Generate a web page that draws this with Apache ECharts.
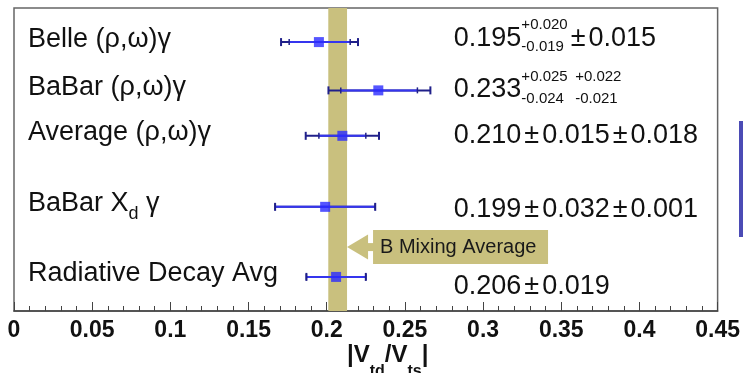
<!DOCTYPE html>
<html>
<head>
<meta charset="utf-8">
<script src="https://cdn.jsdelivr.net/npm/echarts@6/dist/echarts.min.js"></script>
<style>
  html, body { margin: 0; padding: 0; background: #fff; }
  #chartBox { width: 743px; height: 373px; }
</style>
</head>
<body>
<div id="chartBox"></div>
<script>
// measurements, top to bottom
var categories = ['Belle (ρ,ω)γ', 'BaBar (ρ,ω)γ', 'Average (ρ,ω)γ', 'BaBar X_{d} γ', 'Radiative Decay Avg'];
var rowPos = [5.68, 4.66, 3.7, 2.2, 0.72];
var resultRow = [5.76, 4.68, 3.7, 2.15, 0.51];   // level of the printed numbers
var central = [0.195, 0.233, 0.210, 0.199, 0.206];
var statUp = [0.020, 0.025, 0.015, 0.032, 0.019];
var statDn = [0.019, 0.024, 0.015, 0.032, 0.019];
var systUp = [0.015, 0.022, 0.018, 0.001, 0];
var systDn = [0.015, 0.021, 0.018, 0.001, 0];

// B mixing band
var bMixing = [0.201, 0.213];
var bMixingLabel = 'B Mixing Average';
var bMixingRow = 1.35;

var xTickLabels = ['0', '0.05', '0.1', '0.15', '0.2', '0.25', '0.3', '0.35', '0.4', '0.45'];
var xTitle = '|V_{td}/V_{ts}|';

var FONT = '"Liberation Sans", Arial, Helvetica, sans-serif';
var BAND = '#c9c07e';
var resultX = 0.28;   // where the numbers start (axis units)

var measureCtx = document.createElement('canvas').getContext('2d');
function measure(t, size, weight) {
  measureCtx.font = (weight || 'normal') + ' ' + size + 'px ' + FONT;
  return measureCtx.measureText(t).width;
}

// tiny ^{..} / _{..} parser
function parseTex(str) {
  var out = [], buf = '', i = 0;
  while (i < str.length) {
    var c = str[i];
    if ((c === '^' || c === '_') && str[i + 1] === '{') {
      if (buf) { out.push({t: buf, kind: 'main'}); buf = ''; }
      var j = str.indexOf('}', i);
      out.push({t: str.slice(i + 2, j), kind: c === '^' ? 'sup' : 'sub'});
      i = j + 1;
    } else { buf += c; i++; }
  }
  if (buf) out.push({t: buf, kind: 'main'});
  return out;
}

function txt(t, x, y, size, weight, color) {
  return {
    type: 'text', x: x, y: y, silent: true,
    style: {text: t, font: (weight || 'normal') + ' ' + size + 'px ' + FONT,
            fill: color || '#111', align: 'left', verticalAlign: 'middle'}
  };
}

function texElements(str, x, y, o) {
  var els = [], cx = x, stackW = 0, prev = null;
  parseTex(str).forEach(function (tk) {
    if (tk.kind === 'main') {
      cx += stackW; stackW = 0;
      tk.t.split('±').forEach(function (p, k) {
        if (k > 0) {
          cx += o.pmGap;
          els.push(txt('±', cx, y, o.size, o.weight));
          cx += measure('±', o.size, o.weight) + o.pmGap;
        }
        if (p) {
          els.push(txt(p, cx, y, o.size, o.weight));
          cx += measure(p, o.size, o.weight);
        }
      });
    } else {
      if (prev === 'main' || prev === tk.kind) { cx += stackW; stackW = 0; }
      els.push(txt(tk.t, cx, y + (tk.kind === 'sup' ? o.supDy : o.subDy), o.small, o.weight));
      stackW = Math.max(stackW, measure(tk.t, o.small, o.weight));
    }
    prev = tk.kind;
  });
  return els;
}

function errPart(up, dn) {
  if (!up && !dn) return '';
  if (up === dn) return '±' + up.toFixed(3);
  return '^{+' + up.toFixed(3) + '}_{-' + dn.toFixed(3) + '}';
}
function resultText(i) {
  var s = central[i].toFixed(3) + errPart(statUp[i], statDn[i]);
  var sy = errPart(systUp[i], systDn[i]);
  if (sy && sy[0] === '^' && statUp[i] !== statDn[i]) s += ' ';
  return s + sy;
}

var rowData = central.map(function (c, i) { return [c, rowPos[i]]; });

var chartBox = echarts.init(document.getElementById('chartBox'));

var option = {
  animation: false,
  grid: {left: 14, right: 21, top: 8, bottom: 62, show: true,
         borderColor: '#666', borderWidth: 1.5, backgroundColor: '#fff'},
  xAxis: {
    type: 'value', min: 0, max: 0.45, interval: 0.05,
    axisLine: {lineStyle: {color: '#444', width: 1.5}},
    axisTick: {inside: true, length: 9, lineStyle: {color: '#444', width: 1}},
    minorTick: {show: true, splitNumber: 5, length: 5, lineStyle: {color: '#444', width: 1}},
    splitLine: {show: false},
    axisLabel: {
      margin: 8, color: '#111', fontSize: 23, fontWeight: 'bold', fontFamily: FONT,
      formatter: function (v) { return xTickLabels[Math.round(v / 0.05)]; }
    }
  },
  yAxis: {type: 'value', min: 0, max: 6.4, show: false},
  graphic: [
    {type: 'group', silent: true, children: texElements(xTitle, 347, 355,
      {size: 24, small: 16, supDy: -8, subDy: 17, weight: 'bold', pmGap: 0})},
    {type: 'rect', left: 739, top: 121, shape: {width: 4, height: 116},
     style: {fill: '#4b4bb5'}, silent: true}
  ],
  series: [
    { // B mixing band
      type: 'custom', z: 1, data: [bMixing],
      renderItem: function (params, api) {
        var a = api.coord([api.value(0), 6.4]), b = api.coord([api.value(1), 0]);
        return {type: 'rect', shape: {x: a[0], y: a[1], width: b[0] - a[0], height: b[1] - a[1]},
                style: {fill: BAND}};
      }
    },
    { // arrow + label
      type: 'custom', z: 2, data: [[bMixing[1], bMixingRow]],
      renderItem: function (params, api) {
        var p = api.coord([api.value(0), api.value(1)]);
        var tip = p[0], y = p[1];
        return {type: 'group', children: [
          {type: 'polygon', shape: {points: [[tip, y], [tip + 21, y - 12.5], [tip + 21, y + 12.5]]}, style: {fill: BAND}},
          {type: 'rect', shape: {x: tip + 20, y: y - 4, width: 8, height: 8}, style: {fill: BAND}},
          {type: 'rect', shape: {x: tip + 26, y: y - 17, width: 175, height: 34}, style: {fill: BAND}},
          txt(bMixingLabel, tip + 33, y, 20, 'normal', '#1a1a1a')
        ]};
      }
    },
    { // error bars: total (dark) under stat (blue)
      type: 'custom', z: 3, data: rowData,
      renderItem: function (params, api) {
        var i = params.dataIndex, c = central[i];
        var y = api.coord([0, rowPos[i]])[1];
        var X = function (v) { return api.coord([v, 0])[0]; };
        var lo = X(c - Math.hypot(statDn[i], systDn[i])), hi = X(c + Math.hypot(statUp[i], systUp[i]));
        var sLo = X(c - statDn[i]), sHi = X(c + statUp[i]);
        var dark = '#20208a', blue = '#3535ee';
        var ln = function (x1, y1, x2, y2, col, w) {
          return {type: 'line', shape: {x1: x1, y1: y1, x2: x2, y2: y2}, style: {stroke: col, lineWidth: w}};
        };
        return {type: 'group', children: [
          ln(lo, y, hi, y, dark, 2),
          ln(sLo, y, sHi, y, blue, 2),
          ln(lo, y - 4, lo, y + 4, dark, 2),
          ln(hi, y - 4, hi, y + 4, dark, 2),
          ln(sLo, y - 3, sLo, y + 3, dark, 1.5),
          ln(sHi, y - 3, sHi, y + 3, dark, 1.5)
        ]};
      }
    },
    {
      type: 'scatter', z: 4, data: rowData, symbol: 'rect', symbolSize: 10,
      itemStyle: {color: '#2b2bff'}
    },
    { // row labels
      type: 'custom', z: 5, data: rowData,
      renderItem: function (params, api) {
        var i = params.dataIndex;
        var p = api.coord([0, rowPos[i]]);
        return {type: 'group', children: texElements(categories[i], p[0] + 14, p[1] - 3,
          {size: 27, small: 18, supDy: -10, subDy: 10, pmGap: 3})};
      }
    },
    { // results
      type: 'custom', z: 5, data: rowData,
      renderItem: function (params, api) {
        var i = params.dataIndex;
        var p = api.coord([resultX, resultRow[i]]);
        return {type: 'group', children: texElements(resultText(i), p[0] + 2, p[1],
          {size: 27, small: 15, supDy: -13, subDy: 9, pmGap: 3})};
      }
    }
  ]
};

chartBox.setOption(option);
</script>
</body>
</html>
